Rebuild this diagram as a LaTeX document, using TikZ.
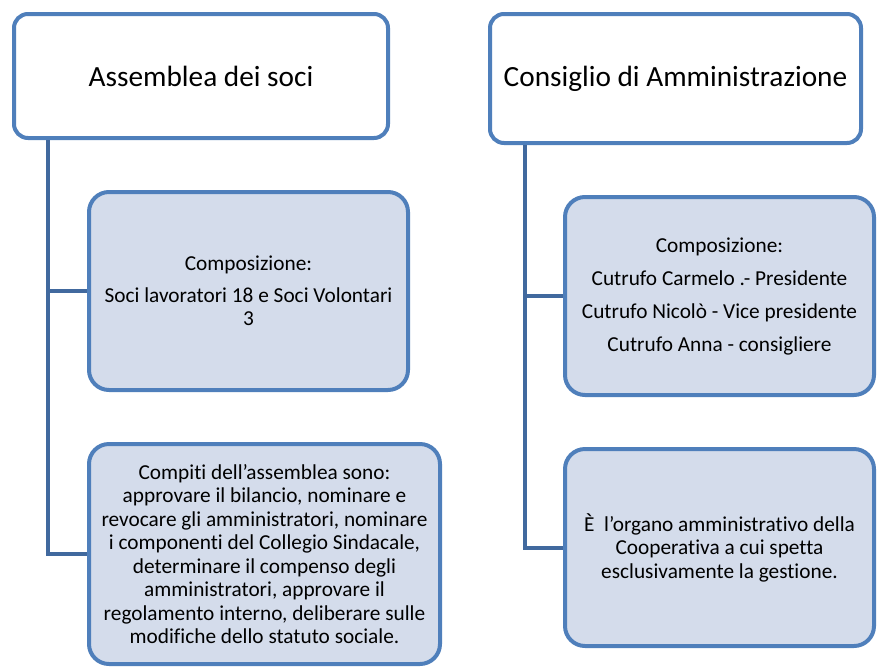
\documentclass[tikz,border=0pt]{standalone}
\usepackage{fontspec}
\setmainfont{Carlito}[Ligatures=NoCommon]
\definecolor{bordblue}{HTML}{4F7FBB}
\definecolor{connblue}{HTML}{41699E}
\definecolor{boxfill}{HTML}{D4DCEB}
\begin{document}
\begin{tikzpicture}[x=1pt,y=-1pt,
  titlebox/.style={draw=bordblue, line width=4pt, fill=white, rounded corners=14pt,
    inner sep=0pt, align=center, font=\fontsize{29.3}{35}\selectfont},
  infobox/.style={draw=bordblue, line width=4pt, fill=boxfill, rounded corners=20pt,
    inner sep=0pt, align=center, font=\fontsize{21.3}{23.5}\selectfont},
  conn/.style={draw=connblue, line width=4pt}]
\clip (0,0) rectangle (877,667);
\useasboundingbox (0,0) rectangle (877,667);
\node[titlebox, minimum width=374pt, minimum height=124pt] (A) at (201,76) {Assemblea dei soci};
\node[titlebox, minimum width=371pt, minimum height=129pt] (C) at (675.5,78.5) {Consiglio di Amministrazione};
\node[infobox, minimum width=319pt, minimum height=198pt] (B1) at (248.5,291)
  {Composizione:\\[8pt]Soci lavoratori 18 e Soci Volontari\\3};
\node[infobox, minimum width=351pt, minimum height=220pt] (B2) at (264.5,554)
  {Compiti dell’assemblea sono:\\approvare il bilancio, nominare e\\revocare gli amministratori, nominare\\i componenti del Collegio Sindacale,\\determinare il compenso degli\\amministratori, approvare il\\regolamento interno, deliberare sulle\\modifiche dello statuto sociale.};
\node[infobox, minimum width=309pt, minimum height=198pt] (D1) at (719.5,296)
  {Composizione:\\[9.5pt]Cutrufo Carmelo .- Presidente\\[9.5pt]Cutrufo Nicolò - Vice presidente\\[9.5pt]Cutrufo Anna - consigliere};
\node[infobox, minimum width=309pt, minimum height=197pt] (D2) at (719.5,547.5)
  {È \ l’organo amministrativo della\\Cooperativa a cui spetta\\esclusivamente la gestione.};
\coordinate (a1) at ([xshift=36pt]A.south west);
\coordinate (c1) at ([xshift=37pt]C.south west);
\draw[conn] (a1) |- (B1.west);
\draw[conn] (a1) |- (B2.west);
\draw[conn] (c1) |- (D1.west);
\draw[conn] (c1) |- (D2.west);
\end{tikzpicture}
\end{document}
